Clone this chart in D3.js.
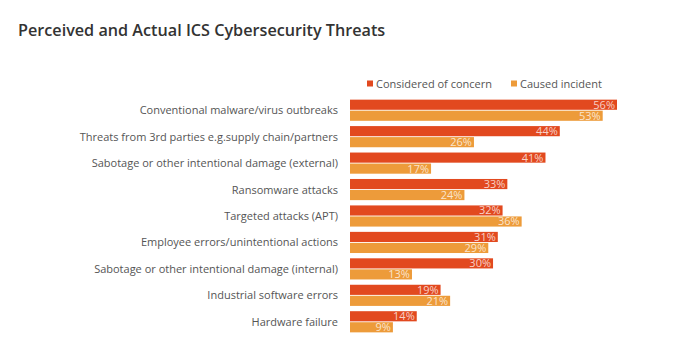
<!DOCTYPE html>
<html><head><meta charset="utf-8">
<script src="https://cdn.jsdelivr.net/npm/d3@7"></script>
<style>body{margin:0;background:#fff;}svg{display:block;font-family:"Open Sans",sans-serif;}</style>
</head><body>
<svg id="c" width="700" height="357"></svg>
<script>
const categories = [
  "Conventional malware/virus outbreaks",
  "Threats from 3rd parties e.g.supply chain/partners",
  "Sabotage or other intentional damage (external)",
  "Ransomware attacks",
  "Targeted attacks (APT)",
  "Employee errors/unintentional actions",
  "Sabotage or other intentional damage (internal)",
  "Industrial software errors",
  "Hardware failure"
];
const seriesNames = ["Considered of concern", "Caused incident"];
const concern = [56, 44, 41, 33, 32, 31, 30, 19, 14];
const incident = [53, 26, 17, 24, 36, 29, 13, 21, 9];
const colors = ["#e2491f", "#ed9b3a"];

const svg = d3.select("#c");
svg.append("text").attr("x", 18).attr("y", 36)
  .attr("font-size", 16.2).attr("font-weight", 600).attr("fill", "#333")
  .text("Perceived and Actual ICS Cybersecurity Threats");

const x = d3.scaleLinear().domain([0, 56]).range([350, 617]);
const y = d3.scaleBand().domain(categories).range([97, 335]).paddingInner(0.2).paddingOuter(0.1);
const ys = d3.scaleBand().domain(seriesNames).range([0, y.bandwidth()]).paddingInner(0.08);

const data = categories.map((c, i) => ({c, vals: [concern[i], incident[i]]}));

const g = svg.append("g");
const grp = g.selectAll("g.cat").data(data).join("g").attr("transform", d => `translate(0,${y(d.c)})`);
grp.selectAll("rect").data(d => d.vals.map((v, k) => ({v, k})))
  .join("rect")
  .attr("x", x(0)).attr("y", d => ys(seriesNames[d.k]))
  .attr("width", d => x(d.v) - x(0)).attr("height", ys.bandwidth())
  .attr("fill", d => colors[d.k]);
grp.selectAll("text.v").data(d => d.vals.map((v, k) => ({v, k})))
  .join("text").attr("class", "v")
  .attr("x", d => x(d.v) - 2).attr("y", d => ys(seriesNames[d.k]) + ys.bandwidth() / 2)
  .attr("dy", "0.36em").attr("text-anchor", "end")
  .attr("font-size", 11).attr("fill", "#fff").attr("fill-opacity", 0.75)
  .text(d => d.v + "%");

g.selectAll("text.cat").data(categories).join("text").attr("class", "cat")
  .attr("x", 338).attr("y", d => y(d) + y.bandwidth() / 2).attr("dy", "0.36em")
  .attr("text-anchor", "end").attr("font-size", 11).attr("fill", "#555")
  .text(d => d);

const legX = [367, 511];
const leg = svg.append("g").selectAll("g").data(seriesNames).join("g")
  .attr("transform", (d, i) => `translate(${legX[i]},84)`);
leg.append("rect").attr("x", 0).attr("y", -3.5).attr("width", 6).attr("height", 6)
  .attr("fill", (d, i) => colors[i]);
leg.append("text").attr("x", 9).attr("y", 0).attr("dy", "0.36em")
  .attr("font-size", 11).attr("fill", "#555").text(d => d);
</script>
</body></html>
